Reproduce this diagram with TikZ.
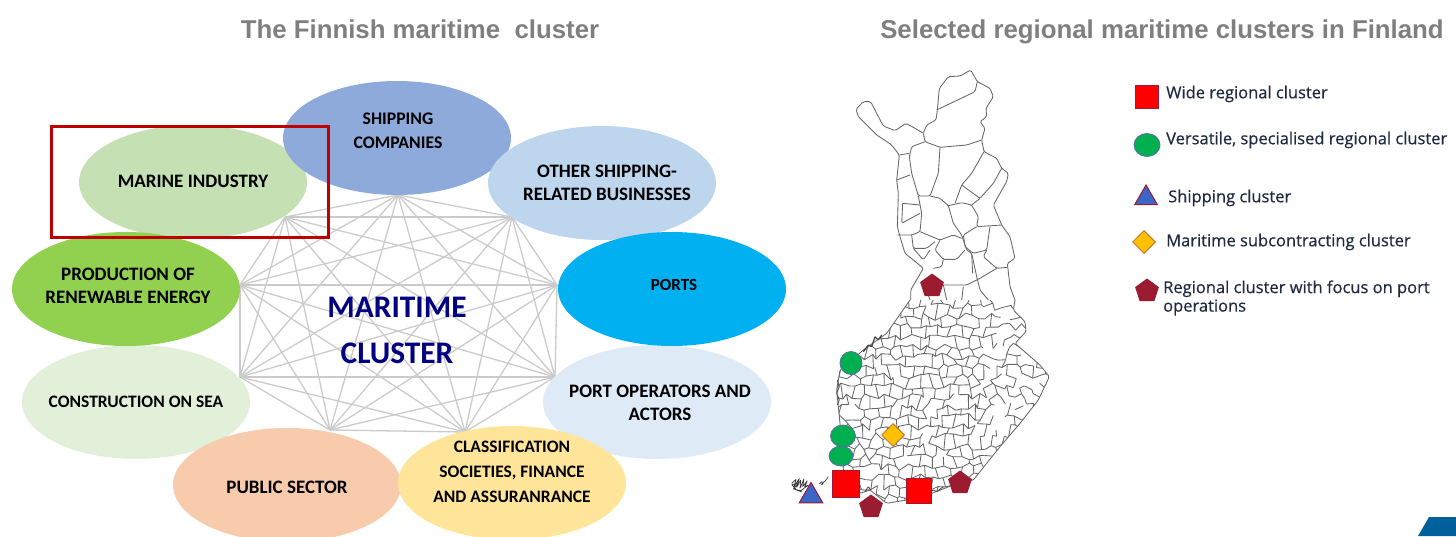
\documentclass[tikz,border=0pt]{standalone}
\usepackage{fontspec}
\setmainfont{Carlito}
\newfontfamily\titlefont{Liberation Sans}
\newfontfamily\legendfont[RawFeature={embolden=0.5}]{Open Sans}
\usetikzlibrary{shapes.geometric}
\definecolor{titlegray}{HTML}{7F7F7F}
\definecolor{netgray}{HTML}{CBCBCB}
\definecolor{navytxt}{HTML}{000080}
\definecolor{framered}{HTML}{C00000}
\definecolor{pentred}{HTML}{9B1C31}
\definecolor{edgeblue}{HTML}{5B6BA8}
\definecolor{legendink}{HTML}{1F2A40}
\definecolor{mapline}{HTML}{666666}
\definecolor{cship}{HTML}{8EAADB}
\definecolor{cother}{HTML}{BDD6EE}
\definecolor{cports}{HTML}{00B0F0}
\definecolor{cops}{HTML}{DEEAF6}
\definecolor{cclass}{HTML}{FFE599}
\definecolor{cpublic}{HTML}{F7CBAC}
\definecolor{cconstr}{HTML}{E2EFD9}
\definecolor{cprod}{HTML}{92D050}
\definecolor{cmarine}{HTML}{C5E0B3}
\definecolor{mgreen}{HTML}{00B050}
\definecolor{mblue}{HTML}{3A66C8}
\definecolor{mamber}{HTML}{FFC000}
\definecolor{mamberedge}{HTML}{C07A30}
\definecolor{cornerblue}{HTML}{00609C}
\newcommand{\fs}[2]{\bfseries\fontsize{#1}{#2}\selectfont}
\tikzset{
  x=1pt,y=-1pt,
  blob/.style={ellipse,minimum width=228pt,minimum height=114pt,inner sep=0pt,fill=#1},
  blobtext/.style={font=\fs{19}{23.5},align=center,text=black,inner sep=0pt},
  titletext/.style={font=\titlefont\bfseries\fontsize{25.8}{30}\selectfont,text=titlegray,inner sep=0pt,anchor=base},
  legendtext/.style={font=\legendfont\fontsize{16.5}{18.5}\selectfont,text=legendink,anchor=west,align=left,inner sep=0pt},
  netline/.style={draw=netgray,line width=1.3pt},
  mapstroke/.style={draw=mapline,line width=0.85pt,line join=round,rounded corners=1.5pt},
  redsq/.style={rectangle,fill=red,draw=pentred,line width=1pt,inner sep=0pt,minimum width=#1,minimum height=#1},
  greendot/.style={ellipse,fill=mgreen,draw=edgeblue,line width=0.8pt,inner sep=0pt},
  amber/.style={diamond,fill=mamber,draw=mamberedge,line width=1pt,inner sep=0pt,minimum width=23pt,minimum height=23pt},
  pent/.style={regular polygon,regular polygon sides=5,fill=pentred,inner sep=0pt,minimum size=25pt},
  tri/.style={regular polygon,regular polygon sides=3,fill=mblue,draw=pentred,line width=1pt,inner sep=0pt,minimum size=27pt},
}
\begin{document}
\begin{tikzpicture}
\useasboundingbox (0,0) rectangle (1456,536);
% network
\coordinate (n1) at (398,195);
\coordinate (n2) at (512,217);
\coordinate (n3) at (557,285);
\coordinate (n4) at (555,377);
\coordinate (n5) at (465,432);
\coordinate (n6) at (330,430);
\coordinate (n7) at (240,377);
\coordinate (n8) at (240,285);
\coordinate (n9) at (285,217);
\foreach \a in {1,...,8}{
  \pgfmathtruncatemacro\s{\a+1}
  \foreach \b in {\s,...,9}{ \draw[netline] (n\a) -- (n\b); }
}
% ellipses
\node[blob=cmarine] (emarine) at (193,182) {};
\node[blob=cship] (eship) at (397,138) {};
\node[blob=cother] (eother) at (602,183) {};
\node[blob=cops] (eops) at (657,402) {};
\node[blob=cports] (eports) at (672,289) {};
\node[blob=cconstr] (econstr) at (136,402) {};
\node[blob=cprod] (eprod) at (126,289) {};
\node[blob=cpublic] (epublic) at (287,485) {};
\node[blob=cclass] (eclass) at (512,483) {};
% ellipse texts
\node[blobtext,font=\fs{17.7}{24}] (tship) at (398,131) {SHIPPING\\COMPANIES};
\node[blobtext] (tother) at (607,183) {OTHER SHIPPING-\\RELATED BUSINESSES};
\node[blobtext,font=\fs{17}{24}] (tports) at (674,285) {PORTS};
\node[blobtext] (tops) at (660,403) {PORT OPERATORS AND\\ACTORS};
\node[blobtext,font=\fs{17.5}{25}] (tclass) at (512,472) {CLASSIFICATION\\SOCIETIES, FINANCE\\AND ASSURANRANCE};
\node[blobtext] (tpublic) at (287,487) {PUBLIC SECTOR};
\node[blobtext,font=\fs{17.5}{24}] (tconstr) at (136,402) {CONSTRUCTION ON SEA};
\node[blobtext] (tprod) at (128,286) {PRODUCTION OF\\RENEWABLE ENERGY};
\node[blobtext] (tmarine) at (193,181) {MARINE INDUSTRY};
\node[blobtext,font=\fs{31.4}{46},text=navytxt] (tcentre) at (397,330) {MARITIME\\CLUSTER};
\node[draw=framered,line width=3pt,minimum width=277pt,minimum height=111pt,inner sep=0pt] (frame) at (189.5,181.5) {};
% titles
\node[titletext] (title1) at (420,38) {The Finnish maritime\ \ cluster};
\node[titletext] (title2) at (1162,38) {Selected regional maritime clusters in Finland};
% map north (zoom coordinates)
\begin{scope}[shift={(780,60)},scale=1/3,mapstroke]
\draw (392,720) -- (392,690) -- (430,625) -- (400,600) -- (375,580) -- (360,530) -- (352,500) -- (355,400) -- (350,360) -- (358,285) -- (335,255) -- (290,225) -- (235,170) -- (228,148) -- (250,125) -- (272,125) -- (290,160) -- (310,198) -- (345,212) -- (378,190) -- (405,205) -- (430,220) -- (440,195) -- (468,180) -- (472,150) -- (478,85) -- (505,50) -- (540,48) -- (572,30) -- (592,65) -- (630,85) -- (640,110) -- (618,145) -- (620,170) -- (600,185) -- (615,205) -- (605,240) -- (612,275) -- (650,295) -- (665,325) -- (685,340) -- (680,365) -- (640,435) -- (665,495) -- (690,530) -- (705,595) -- (682,610) -- (690,680) -- (705,720);
\draw (470,150) -- (585,95) -- (592,65);
\draw (430,220) -- (435,245) -- (480,262) -- (560,255) -- (605,240);
\draw (435,245) -- (395,260) -- (388,290) -- (395,340) -- (415,408) -- (450,408) -- (475,340) -- (480,262);
\draw (358,285) -- (388,280);
\draw (350,360) -- (390,345);
\draw (415,408) -- (425,460) -- (420,515) -- (395,525) -- (352,525);
\draw (368,430) -- (420,435);
\draw (368,430) -- (365,490) -- (420,460);
\draw (450,408) -- (480,415) -- (505,437) -- (520,490) -- (545,525) -- (560,570) -- (575,580) -- (590,650) -- (600,690) -- (625,720);
\draw (505,437) -- (545,428) -- (575,435) -- (595,470) -- (590,500) -- (665,495);
\draw (612,275) -- (575,340) -- (545,375) -- (525,430);
\draw (545,375) -- (600,415) -- (640,370) -- (665,325);
\draw (600,415) -- (575,435);
\draw (590,500) -- (550,525) -- (555,560) -- (580,580) -- (620,570) -- (630,500);
\draw (620,570) -- (610,590) -- (650,625) -- (682,622);
\draw (650,625) -- (600,655) -- (560,675) -- (490,675) -- (450,680);
\draw (420,515) -- (480,540) -- (520,525) -- (545,535);
\draw (480,540) -- (465,570) -- (490,598) -- (530,598) -- (555,570);
\draw (395,525) -- (400,565) -- (440,565) -- (465,545);
\draw (400,565) -- (430,600) -- (450,570);
\draw (490,598) -- (485,620) -- (460,625);
\draw (575,580) -- (578,640);
\draw (550,680) -- (545,720);
\draw (440,690) -- (450,720);
\draw (490,675) -- (500,720);
\end{scope}
% map south
\begin{scope}[shift={(780,290)},scale=1/3,mapstroke]
\draw (705,30) -- (700,60) -- (735,95) -- (738,125) -- (705,160) -- (780,225) -- (808,260) -- (775,330) -- (720,400) -- (660,470) -- (580,570) -- (520,585) -- (455,610) -- (380,630) -- (320,640) -- (270,600) -- (240,610) -- (210,590) -- (190,540) -- (180,400) -- (170,300) -- (180,240) -- (250,180) -- (320,130) -- (390,30);
\begin{scope}
\clip (392,30) -- (705,30) -- (700,60) -- (735,95) -- (738,125) -- (705,160) -- (780,225) -- (808,260) -- (775,330) -- (720,400) -- (660,470) -- (580,570) -- (520,585) -- (455,610) -- (380,630) -- (320,640) -- (270,600) -- (240,610) -- (210,590) -- (190,540) -- (180,400) -- (170,300) -- (180,240) -- (250,180) -- (320,130) -- cycle;
\pgfmathsetseed{12}
\foreach \i in {0,...,36}{\foreach \j in {0,...,21}{
  \pgfmathsetmacro\gx{\i*18+165+rnd*16-8}
  \pgfmathsetmacro\gy{\j*30+20+rnd*22-11}
  \coordinate (g\i-\j) at (\gx,\gy);
}}
\foreach \i in {0,...,35}{\foreach \j in {0,...,21}{
  \pgfmathtruncatemacro\ni{\i+1}
  \pgfmathsetmacro\keep{rnd}
  \pgfmathtruncatemacro\dohor{\keep>(\i>24?0.35:0.05)?1:0}
  \ifnum\dohor=1 \draw (g\i-\j) -- (g\ni-\j); \fi
}}
\foreach \i in {0,...,36}{\foreach \j in {0,...,20}{
  \pgfmathtruncatemacro\nj{\j+1}
  \pgfmathtruncatemacro\pq{mod(\i+\j,2)}
  \pgfmathsetmacro\keep{rnd}
  \pgfmathtruncatemacro\dover{\keep>(\i>24?0.4:0.06)?1:0}
  \ifnum\pq=0 \ifnum\dover=1 \draw (g\i-\j) -- (g\i-\nj); \fi \fi
}}
\end{scope}
% coastal and island detail
\draw[draw=black!75,line width=1.2pt,rounded corners=0.5pt] (250,185) -- (265,165) -- (275,170) -- (285,140) -- (295,150) -- (305,135);
\draw[draw=black!70,line width=0.9pt,rounded corners=0.5pt] (172,270) -- (178,290) -- (170,310) -- (178,330) -- (172,345);
\draw[draw=black!70,line width=0.9pt,rounded corners=0.5pt] (440,612) -- (460,600) -- (470,605) -- (490,590);
\draw[draw=black!70,line width=0.9pt,rounded corners=0.5pt] (255,605) -- (265,590) -- (272,600);
\draw[draw=black!80,line width=0.7pt,rounded corners=0.3pt] (35,580) -- (48,568) -- (42,590) -- (58,565) -- (50,592) -- (62,570) -- (60,595) -- (72,566) -- (68,590) -- (82,572) -- (74,590) -- (86,585) -- (62,602) -- (40,597) -- (55,580) -- (35,584) -- (50,600) -- (66,606);
\draw[draw=black!80,line width=0.6pt] (118,582) -- (128,572) -- (124,588) -- (135,570) -- (132,578) -- (145,560);
\end{scope}
% map markers
\node[pent] (p1) at (932,286) {};
\node[greendot,minimum width=22pt,minimum height=23pt] (c1) at (851,363) {};
\node[greendot,minimum width=24pt,minimum height=20pt] (c3) at (841,456) {};
\node[greendot,minimum width=25pt,minimum height=22pt] (c2) at (843,436) {};
\node[amber] (d1) at (893,435) {};
\node[redsq=27pt] (s1) at (846,484) {};
\node[redsq=25pt] (s2) at (919,491) {};
\node[tri] (t1) at (811,496) {};
\node[pent] (p2) at (960,483) {};
\node[pent] (p3) at (871,507) {};
% legend
\node[redsq=23pt] (ls) at (1147,97) {};
\node[greendot,minimum width=26pt,minimum height=23pt] (lc) at (1147,145) {};
\node[tri,minimum size=26pt] (lt) at (1146,198) {};
\node[amber] (ld) at (1144,242) {};
\node[pent] (lp) at (1147,291) {};
\node[legendtext] (l1) at (1166,94) {Wide regional cluster};
\node[legendtext] (l2) at (1166,140) {Versatile, specialised regional cluster};
\node[legendtext] (l3) at (1168,198) {Shipping cluster};
\node[legendtext] (l4) at (1166,242) {Maritime subcontracting cluster};
\node[legendtext] (l5) at (1163,298) {Regional cluster with focus on port\\operations};
% corner
\fill[cornerblue] (1418,536) -- (1429,517) -- (1456,517) -- (1456,536) -- cycle;
\end{tikzpicture}
\end{document}
